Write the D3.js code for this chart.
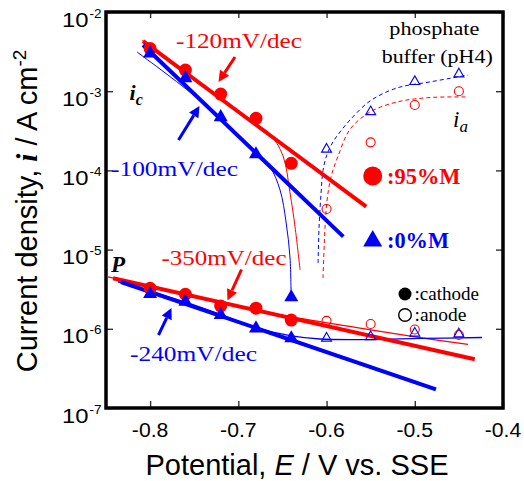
<!DOCTYPE html>
<html><head><meta charset="utf-8">
<script src="https://cdn.jsdelivr.net/npm/d3@7"></script>
<style>body{margin:0;background:#fff}</style>
</head><body>
<svg id="chart" width="524" height="481"></svg>
<script>
// ---------- data ----------
const xTicks = [-0.8, -0.7, -0.6, -0.5, -0.4];
const yTickExps = [-2, -3, -4, -5, -6, -7];

const E_cathode = [-0.80, -0.76, -0.72, -0.68, -0.64];
const E_anode = [-0.60, -0.55, -0.50, -0.45];

// i_c region (upper)
const ic_95M = [3.45e-3, 1.85e-3, 9.2e-4, 4.55e-4, 1.23e-4];
const ic_0M = [3.0e-3, 1.46e-3, 4.7e-4, 1.6e-4, 2.5e-6];
const ia_95M = [3.26e-5, 2.26e-4, 6.7e-4, 1.0e-3];
const ia_0M = [1.85e-4, 5.5e-4, 1.32e-3, 1.65e-3];

// P region (lower)
const icP_95M = [3.24e-6, 2.73e-6, 1.94e-6, 1.82e-6, 1.29e-6];
const icP_0M = [2.75e-6, 2.2e-6, 1.49e-6, 1.01e-6, 7.6e-7];
const iaP_95M = [1.26e-6, 1.15e-6, 9.8e-7, 8.35e-7];
const iaP_0M = [7.6e-7, 7.95e-7, 8.8e-7, 8.6e-7];

// Tafel fit lines [E, i]
const fit_ic_95M = [[-0.808, 4.3e-3], [-0.555, 3.48e-5]];
const fit_ic_0M = [[-0.808, 3.83e-3], [-0.581, 1.46e-5]];
const fit_P_95M = [[-0.842, 4.35e-6], [-0.432, 4.12e-7]];
const fit_P_0M = [[-0.833, 3.9e-6], [-0.476, 1.72e-7]];

// measured polarization curves [E, |i|]
const curve_c_95M = [[-0.8092, 4.43e-3], [-0.7434, 1.29e-3], [-0.6811, 3.97e-4], [-0.6641, 2.88e-4], [-0.6493, 1.52e-4], [-0.6414, 5.19e-5], [-0.6357, 1.93e-5], [-0.6300, 5.52e-6]];
const curve_c_0M = [[-0.8149, 3.13e-3], [-0.7434, 7.64e-4], [-0.6811, 1.66e-4], [-0.6641, 1.10e-4], [-0.6527, 5.66e-5], [-0.6459, 2.23e-5], [-0.6414, 7.83e-6], [-0.6402, 2.52e-6]];
const curve_a_95M = [[-0.6040, 4.38e-6], [-0.6017, 1.93e-5], [-0.5994, 4.23e-5], [-0.5949, 8.26e-5], [-0.5869, 1.52e-4], [-0.5734, 3.3e-4], [-0.5507, 5.46e-4], [-0.5201, 7.31e-4], [-0.4827, 8.32e-4], [-0.4407, 8.45e-4]];
const curve_a_0M = [[-0.6096, 6.78e-6], [-0.6085, 1.93e-5], [-0.6062, 5.19e-5], [-0.6040, 1.0e-4], [-0.5994, 1.6e-4], [-0.5926, 2.3e-4], [-0.5847, 3.06e-4], [-0.5734, 4.33e-4], [-0.5507, 7.52e-4], [-0.5201, 1.10e-3], [-0.4827, 1.31e-3], [-0.4396, 1.60e-3]];
const curve_P_95M = [[-0.8477, 4.51e-6], [-0.7434, 2.48e-6], [-0.6754, 1.70e-6], [-0.6300, 1.35e-6], [-0.5620, 1.02e-6], [-0.4940, 7.76e-7], [-0.4396, 6.34e-7]];
const curve_P_0M = [[-0.8364, 3.90e-6], [-0.7434, 1.88e-6], [-0.6754, 9.95e-7], [-0.6414, 8.22e-7], [-0.6074, 7.43e-7], [-0.5507, 7.32e-7], [-0.4940, 7.55e-7], [-0.4237, 7.76e-7]];

// ---------- layout ----------
const RED = "#ff0000", BLUE = "#0000ff";
const SANS = "'Liberation Sans', Arial, sans-serif";
const SERIF = "'Liberation Serif', 'Times New Roman', serif";
const M = {l: 106, r: 503, t: 12, b: 408};
const svg = d3.select("#chart");
const x = d3.scaleLinear().domain([-0.85, -0.4]).range([M.l, M.r]);
const y = d3.scaleLog().domain([1e-7, 1e-2]).range([M.b, M.t]);
const yTickVals = yTickExps.map(e => Math.pow(10, e));

// ticks (inward on all four sides)
function styleAxis(g) {
  g.select(".domain").remove();
  g.selectAll(".tick line").attr("stroke", "#333").attr("stroke-width", 1.4);
  g.selectAll(".tick text").remove();
}
svg.append("g").attr("transform", `translate(0,${M.b})`).call(d3.axisBottom(x).tickValues(xTicks).tickSize(-7)).call(styleAxis);
svg.append("g").attr("transform", `translate(0,${M.t})`).call(d3.axisTop(x).tickValues(xTicks).tickSize(-6)).call(styleAxis);
svg.append("g").attr("transform", `translate(${M.l},0)`).call(d3.axisLeft(y).tickValues(yTickVals).tickSize(-7)).call(styleAxis);
svg.append("g").attr("transform", `translate(${M.r},0)`).call(d3.axisRight(y).tickValues(yTickVals).tickSize(-7)).call(styleAxis);

// tick labels
svg.append("g").selectAll("text").data(xTicks).join("text")
  .attr("x", d => x(d)).attr("y", 436.5).attr("text-anchor", "middle")
  .attr("font-family", SANS).attr("font-size", 20)
  .attr("textLength", 36.5).attr("lengthAdjust", "spacingAndGlyphs")
  .text(d => d.toFixed(1));
const yl = svg.append("g");
yl.selectAll("text.base").data(yTickExps).join("text").attr("class", "base")
  .attr("x", 88.5).attr("y", d => y(Math.pow(10, d)) + 14.5).attr("text-anchor", "end")
  .attr("font-family", SANS).attr("font-size", 20)
  .attr("textLength", 26.5).attr("lengthAdjust", "spacingAndGlyphs").text("10");
yl.selectAll("text.sup").data(yTickExps).join("text").attr("class", "sup")
  .attr("x", 89.5).attr("y", d => y(Math.pow(10, d)) + 5.5)
  .attr("font-family", SANS).attr("font-size", 13)
  .attr("textLength", 12).attr("lengthAdjust", "spacingAndGlyphs").text(d => String(d));

// axis titles
const xt = svg.append("text").attr("x", 297).attr("y", 475).attr("text-anchor", "middle")
  .attr("font-family", SANS).attr("font-size", 29);
xt.append("tspan").text("Potential, ");
xt.append("tspan").attr("font-style", "italic").text("E");
xt.append("tspan").text(" / V vs. SSE");

const yt = svg.append("text").attr("transform", "translate(37,211) rotate(-90)").attr("text-anchor", "middle")
  .attr("font-family", SANS).attr("font-size", 29);
yt.append("tspan").text("Current density, ");
yt.append("tspan").attr("font-family", SERIF).attr("font-weight", "bold").attr("font-style", "italic").text("i");
yt.append("tspan").text(" / A cm");
yt.append("tspan").attr("font-size", 19).attr("dy", -11).text("-2");

// ---------- lines ----------
const smooth = d3.line().x(d => x(d[0])).y(d => y(d[1])).curve(d3.curveCatmullRom.alpha(0.5));
const straight = d3.line().x(d => x(d[0])).y(d => y(d[1]));
const plot = svg.append("g");

function path(g, data, gen, color, w, dash) {
  const p = g.append("path").attr("d", gen(data)).attr("fill", "none")
    .attr("stroke", color).attr("stroke-width", w);
  if (dash) p.attr("stroke-dasharray", dash);
  return p;
}
// thin measured curves
path(plot, curve_c_95M, smooth, RED, 1);
path(plot, curve_c_0M, smooth, BLUE, 1);
path(plot, curve_P_95M, smooth, RED, 1.3);
path(plot, curve_P_0M, smooth, BLUE, 1.3);
path(plot, curve_a_95M, smooth, RED, 1, "4,3");
path(plot, curve_a_0M, smooth, BLUE, 1, "4,3");
// thick Tafel lines
path(plot, fit_ic_95M, straight, RED, 4);
path(plot, fit_ic_0M, straight, BLUE, 4);
path(plot, fit_P_95M, straight, RED, 4);
path(plot, fit_P_0M, straight, BLUE, 4);

// ---------- markers ----------
const tri = (w) => d3.symbol().type(d3.symbolTriangle).size(Math.sqrt(3) / 4 * w * w)();
function circles(E, I, color, r, filled) {
  plot.append("g").selectAll("circle").data(E.map((e, k) => [e, I[k]])).join("circle")
    .attr("cx", d => x(d[0])).attr("cy", d => y(d[1])).attr("r", r)
    .attr("fill", filled ? color : "none").attr("stroke", color).attr("stroke-width", filled ? 0 : 1.1);
}
function triangles(E, I, color, w, filled) {
  plot.append("g").selectAll("path").data(E.map((e, k) => [e, I[k]])).join("path")
    .attr("transform", d => `translate(${x(d[0])},${y(d[1])})`).attr("d", tri(w))
    .attr("fill", filled ? color : "none").attr("stroke", color).attr("stroke-width", filled ? 0 : 1.1);
}
circles(E_cathode, ic_95M, RED, 6.5, true);
triangles(E_cathode, ic_0M, BLUE, 14, true);
circles(E_cathode, icP_95M, RED, 6.5, true);
triangles(E_cathode, icP_0M, BLUE, 14, true);
circles(E_anode, ia_95M, RED, 4.5, false);
triangles(E_anode, ia_0M, BLUE, 10, false);
circles(E_anode, iaP_95M, RED, 4.5, false);
triangles(E_anode, iaP_0M, BLUE, 10, false);

// ---------- annotations ----------
const ann = svg.append("g");
function label(xp, yp, s, o) {
  const t = ann.append("text").attr("x", xp).attr("y", yp).text(s)
    .attr("font-family", o.family || SERIF).attr("font-size", o.size || 20)
    .attr("fill", o.color || "#000");
  if (o.anchor) t.attr("text-anchor", o.anchor);
  if (o.weight) t.attr("font-weight", o.weight);
  if (o.style) t.attr("font-style", o.style);
  if (o.w) t.attr("textLength", o.w).attr("lengthAdjust", "spacingAndGlyphs");
  return t;
}
function arrow(x1, y1, x2, y2, color) {
  const a = Math.atan2(y2 - y1, x2 - x1), L = 11, H = 5.5;
  const bx = x2 - L * Math.cos(a), by = y2 - L * Math.sin(a);
  ann.append("line").attr("x1", x1).attr("y1", y1).attr("x2", bx).attr("y2", by)
    .attr("stroke", color).attr("stroke-width", 3);
  ann.append("path").attr("fill", color).attr("d",
    `M${x2},${y2}L${bx + H * Math.sin(a)},${by - H * Math.cos(a)}L${bx - H * Math.sin(a)},${by + H * Math.cos(a)}Z`);
}
label(176, 47.5, "-120mV/dec", {size: 21, color: RED, w: 126});
label(111, 176, "-100mV/dec", {size: 21, color: BLUE, w: 127});
label(161.5, 265, "-350mV/dec", {size: 21, color: RED, w: 125});
label(130, 360.5, "-240mV/dec", {size: 21, color: BLUE, w: 127});
arrow(235, 57, 218.5, 82, RED);
arrow(178.5, 140, 199.5, 106, BLUE);
arrow(241.5, 269.5, 227.5, 300.5, RED);
arrow(158.5, 335, 171.5, 308, BLUE);

const ic = label(129.5, 100, "i", {size: 22, weight: "bold", style: "italic"});
ic.append("tspan").attr("font-size", 16).attr("dy", 5).text("c");
label(111, 272, "P", {size: 23, weight: "bold", style: "italic"});
const ia = label(453, 126.5, "i", {size: 23, style: "italic"});
ia.append("tspan").attr("font-size", 17).attr("dy", 5).text("a");

label(434.3, 35, "phosphate", {size: 19, anchor: "middle", w: 90});
label(437.2, 62.7, "buffer (pH4)", {size: 19, anchor: "middle", w: 111});

ann.append("circle").attr("cx", 372.7).attr("cy", 176).attr("r", 9.5).attr("fill", RED);
label(387, 184, ":95%M", {size: 23, weight: "bold", color: RED, w: 73.5});
ann.append("path").attr("transform", "translate(372.7,241)").attr("d", tri(19)).attr("fill", BLUE);
label(387, 248.3, ":0%M", {size: 23, weight: "bold", color: BLUE, w: 62});

ann.append("circle").attr("cx", 405).attr("cy", 294).attr("r", 6.5).attr("fill", "#000");
label(414.5, 299.5, ":cathode", {size: 19, w: 64.5});
ann.append("circle").attr("cx", 405).attr("cy", 315).attr("r", 6.3).attr("fill", "none").attr("stroke", "#000").attr("stroke-width", 1.4);
label(414.5, 320.5, ":anode", {size: 19, w: 52});

// frame
svg.append("rect").attr("x", M.l).attr("y", M.t).attr("width", M.r - M.l).attr("height", M.b - M.t)
  .attr("fill", "none").attr("stroke", "#000").attr("stroke-width", 3.5);
</script>
</body></html>
